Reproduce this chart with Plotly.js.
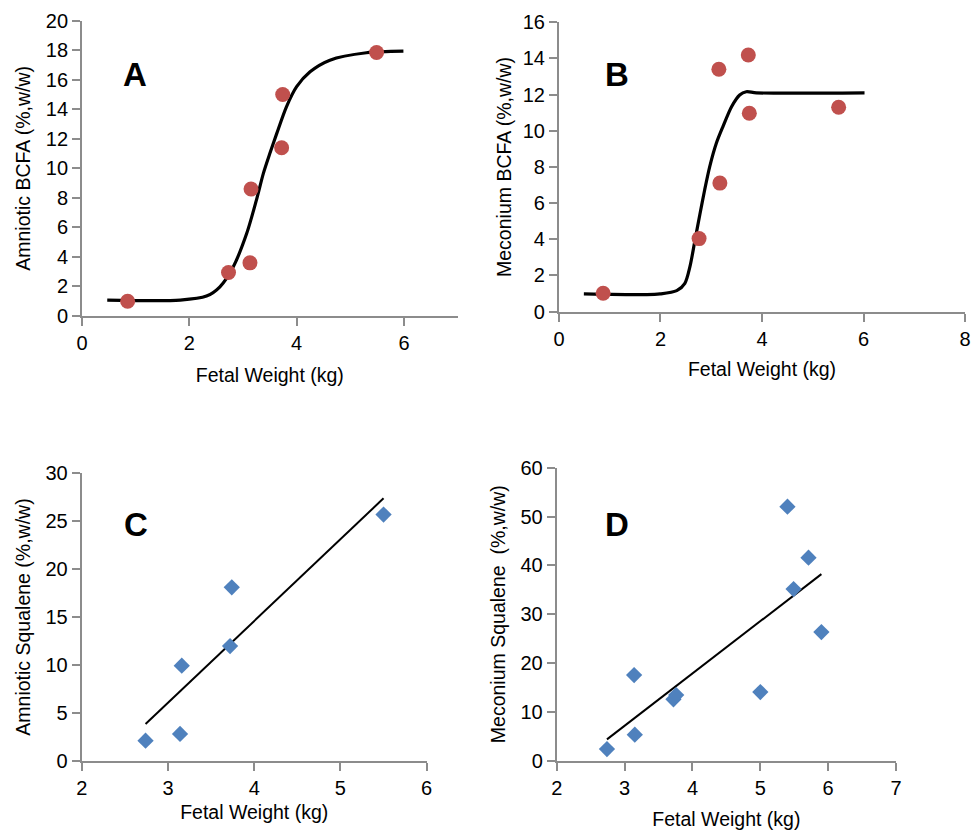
<!DOCTYPE html>
<html>
<head>
<meta charset="utf-8">
<script src="https://cdn.plot.ly/plotly-3.0.1.min.js"></script>
<style>html,body{margin:0;padding:0;background:#fff;}#chart{width:973px;height:832px;}</style>
</head>
<body>
<div id="chart"></div>
<script>
// Panel A: Amniotic BCFA vs fetal weight
const aWeight = [0.85, 2.73, 3.13, 3.15, 3.72, 3.74, 5.49];
const aBCFA   = [1.0, 2.95, 3.6, 8.6, 11.4, 15.0, 17.85];
const aFitX = [0.47, 1.83, 2.32, 2.57, 2.82, 3.07, 3.25, 3.38, 3.50, 3.63, 3.81, 4.0, 4.25, 4.62, 5.3, 5.99];
const aFitY = [1.08, 1.08, 1.35, 1.98, 3.34, 5.6, 7.85, 9.66, 11.0, 12.37, 14.17, 15.53, 16.54, 17.33, 17.83, 17.94];

// Panel B: Meconium BCFA vs fetal weight
const bWeight = [0.87, 2.76, 3.15, 3.17, 3.73, 3.75, 5.51];
const bBCFA   = [1.02, 4.04, 13.4, 7.11, 14.19, 10.97, 11.3];
const bFitX = [0.49, 1.73, 1.99, 2.32, 2.48, 2.58, 2.68, 2.78, 2.87, 2.97, 3.10, 3.23, 3.40, 3.56, 3.69, 3.89, 6.02];
const bFitY = [0.98, 0.94, 0.98, 1.16, 1.57, 2.49, 3.96, 5.44, 6.73, 8.02, 9.31, 10.23, 11.33, 11.98, 12.16, 12.1, 12.1];

// Panel C: Amniotic squalene vs fetal weight
const cWeight   = [2.74, 3.14, 3.16, 3.72, 3.74, 5.5];
const cSqualene = [2.09, 2.79, 9.92, 11.97, 18.1, 25.7];
const cFitX = [2.74, 5.5];
const cFitY = [3.83, 27.39];

// Panel D: Meconium squalene vs fetal weight
const dWeight   = [2.74, 3.15, 3.14, 3.72, 3.76, 5.0, 5.40, 5.71, 5.49, 5.90];
const dSqualene = [2.39, 5.32, 17.54, 12.56, 13.45, 14.06, 52.0, 41.57, 35.15, 26.35];
const dFitX = [2.74, 5.9];
const dFitY = [4.37, 38.2];

const panelLetters = ['A', 'B', 'C', 'D'];
const xTitle = 'Fetal Weight (kg)';
const yTitles = ['Amniotic BCFA (%,w/w)', 'Meconium BCFA (%,w/w)', 'Amniotic Squalene (%,w/w)', 'Meconium Squalene  (%,w/w)'];

const RED = '#C0504D', BLUE = '#4F81BD';
const tickFont = {family: 'Liberation Sans, Arial, sans-serif', size: 20, color: '#000'};
const titleFont = {family: 'Liberation Sans, Arial, sans-serif', size: 19.5, color: '#000'};

function axis(domain, range, dtick, title, anchor, standoff) {
  return {
    domain: domain, range: range, dtick: dtick, tick0: 0, anchor: anchor,
    showline: true, linecolor: '#8c8c8c', linewidth: 2,
    ticks: 'outside', ticklen: 8, tickwidth: 2, tickcolor: '#8c8c8c',
    showgrid: false, zeroline: false, fixedrange: true,
    tickfont: tickFont,
    title: {text: title, font: titleFont, standoff: standoff}
  };
}

const traces = [
  {x: aFitX, y: aFitY, mode: 'lines', line: {color: '#000', width: 3.2, shape: 'spline', smoothing: 0.8}, xaxis: 'x', yaxis: 'y'},
  {x: aWeight, y: aBCFA, mode: 'markers', marker: {color: RED, size: 15, symbol: 'circle'}, xaxis: 'x', yaxis: 'y'},
  {x: bFitX, y: bFitY, mode: 'lines', line: {color: '#000', width: 3.2, shape: 'spline', smoothing: 0.8}, xaxis: 'x2', yaxis: 'y2'},
  {x: bWeight, y: bBCFA, mode: 'markers', marker: {color: RED, size: 15, symbol: 'circle'}, xaxis: 'x2', yaxis: 'y2'},
  {x: cFitX, y: cFitY, mode: 'lines', line: {color: '#000', width: 2}, xaxis: 'x3', yaxis: 'y3'},
  {x: cWeight, y: cSqualene, mode: 'markers', marker: {color: BLUE, size: 12.5, symbol: 'diamond'}, xaxis: 'x3', yaxis: 'y3'},
  {x: dFitX, y: dFitY, mode: 'lines', line: {color: '#000', width: 2}, xaxis: 'x4', yaxis: 'y4'},
  {x: dWeight, y: dSqualene, mode: 'markers', marker: {color: BLUE, size: 12.5, symbol: 'diamond'}, xaxis: 'x4', yaxis: 'y4'}
];

const letterPos = [[0.1387, 0.9099], [0.6338, 0.9099], [0.1395, 0.3698], [0.6338, 0.3698]];
const annotations = panelLetters.map((t, i) => ({
  text: '<b>' + t + '</b>', xref: 'paper', yref: 'paper', x: letterPos[i][0], y: letterPos[i][1],
  xanchor: 'center', yanchor: 'middle', showarrow: false,
  font: {family: 'Liberation Sans, Arial, sans-serif', size: 33, color: '#000'}
}));

const layout = {
  width: 973, height: 832,
  margin: {l: 0, r: 0, t: 0, b: 0},
  paper_bgcolor: '#fff', plot_bgcolor: '#fff',
  showlegend: false,
  xaxis:  axis([0.0843, 0.4703], [0, 7], 2, xTitle, 'y', 15),
  yaxis:  axis([0.6202, 0.9751], [0, 20], 2, yTitles[0], 'x', 10),
  xaxis2: axis([0.5745, 0.9918], [0, 8], 2, xTitle, 'y2', 14),
  yaxis2: axis([0.6254, 0.9732], [0, 16], 2, yTitles[1], 'x2', 6),
  xaxis3: axis([0.0840, 0.4385], [2, 6], 1, xTitle, 'y3', 8),
  yaxis3: axis([0.0857, 0.4311], [0, 30], 5, yTitles[2], 'x3', 10),
  xaxis4: axis([0.5722, 0.9209], [2, 7], 1, xTitle, 'y4', 15),
  yaxis4: axis([0.0857, 0.4379], [0, 60], 10, yTitles[3], 'x4', 10),
  annotations: annotations
};

Plotly.newPlot('chart', traces, layout, {displayModeBar: false, staticPlot: true});
</script>
</body>
</html>
